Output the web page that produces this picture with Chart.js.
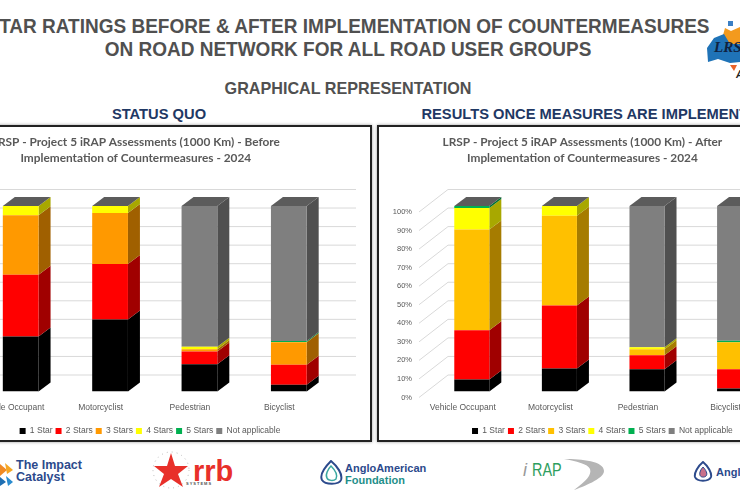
<!DOCTYPE html>
<html>
<head>
<meta charset="utf-8">
<title>Star ratings</title>
<script src="https://cdn.jsdelivr.net/npm/chart.js@4"></script>
<style>
html, body { margin: 0; padding: 0; background: #fff; overflow: hidden; width: 740px; height: 500px; }
body { position: relative; font-family: "Liberation Sans", Arial, sans-serif; }
.txt { position: absolute; white-space: nowrap; font-weight: bold; transform: translateX(-50%) scaleX(0.95); }
.head { color: #505050; font-size: 20px; }
.sub { color: #1f3864; font-size: 15px; transform: translateX(-50%) scaleX(0.98); }
.frame { position: absolute; top: 125px; height: 313px; background: #fff; border: 2px solid #222; box-shadow: 0 0 3px #999; }
canvas { position: absolute; top: 126px; }
.logo { position: absolute; white-space: nowrap; line-height: 12px; font-weight: bold; }
svg { position: absolute; }
</style>
</head>
<body>
<div class="txt head" style="left:348px;top:15px">STAR RATINGS BEFORE &amp; AFTER IMPLEMENTATION OF COUNTERMEASURES</div>
<div class="txt head" style="left:348px;top:38px">ON ROAD NETWORK FOR ALL ROAD USER GROUPS</div>
<div class="txt" style="left:348px;top:79px;color:#505050;font-size:17px">GRAPHICAL REPRESENTATION</div>
<div class="txt sub" style="left:159px;top:105px">STATUS QUO</div>
<div class="txt sub" style="left:595px;top:105px">RESULTS ONCE MEASURES ARE IMPLEMENTED</div>

<div class="frame" style="left:-10px;width:378px"></div>
<div class="frame" style="left:377px;width:400px"></div>
<canvas id="antes" width="468" height="315" style="left:-98px"></canvas>
<canvas id="despues" width="409" height="315" style="left:378px"></canvas>

<!-- logo LRSP -->
<svg style="left:704px;top:18px" width="36" height="62" viewBox="0 0 36 62">
  <path d="M24 3 L29 3 L29 8 L24 8 Z" fill="#3b7fc4"/>
  <path d="M21 10 L27 13 L36 9 L36 28 L16 28 Z" fill="#f39a1e"/>
  <path d="M3 30 L10 20 L20 16 L26 26 L36 26 L36 44 L26 45 L14 41 L4 44 Z" fill="#1f73b7"/>
  <path d="M26 47 L33 47 L30 53 Z" fill="#e8632a"/>
  <text x="10" y="34" font-family="Liberation Serif" font-style="italic" font-weight="bold" font-size="15" fill="#10223f">LRS</text>
  <text x="32" y="60" font-family="Liberation Sans" font-style="italic" font-weight="bold" font-size="10" fill="#222">A</text>
</svg>

<!-- logos de abajo -->
<svg style="left:0;top:462px" width="14" height="24" viewBox="0 0 14 24">
  <path d="M0 2 L7 8 L0 14 Z" fill="#f08a24"/><path d="M5 1 L13 8 L7 12 Z" fill="#f5a623"/>
  <path d="M0 15 L6 20 L0 24 Z" fill="#1f6fb2"/><path d="M6 14 L13 20 L8 24 Z" fill="#2a8ccf"/>
</svg>
<div class="logo" style="left:16px;top:459px;font-size:12.5px;color:#2c4a8c">The Impact<br>Catalyst</div>

<svg style="left:150px;top:449px" width="42" height="42" viewBox="0 0 42 42">
  <circle cx="21" cy="21" r="18" fill="none" stroke="#bbb" stroke-width="1" stroke-dasharray="1 4"/>
  <path d="M21 4 L25 17 L38 17 L28 25 L33 38 L21 30 L9 38 L14 25 L4 17 L17 17 Z" fill="#e8302a"/>
</svg>
<div class="logo" style="left:193px;top:459px;font-size:29px;line-height:24px;color:#e8302a">rrb</div>
<div class="logo" style="left:186px;top:481px;font-size:4px;line-height:6px;letter-spacing:1px;color:#555">SYSTEMS</div>

<svg style="left:319px;top:460px" width="25" height="26" viewBox="0 0 25 26">
  <path d="M12 1 C18 6 24 14 22 20 C20 25 6 25 3 20 C0 14 7 6 12 1 Z" fill="none" stroke="#2c4a8c" stroke-width="2"/>
  <path d="M12 6 C16 10 19 15 17 19 C15 21 9 21 8 18 C6 15 9 9 12 6 Z" fill="none" stroke="#3aa8a0" stroke-width="1.5"/>
</svg>
<div class="logo" style="left:345px;top:462px;font-size:11px;color:#2c4a8c">AngloAmerican<br><span style="color:#1f8f8a">Foundation</span></div>

<div class="logo" style="left:523px;top:459px;font-size:18px;line-height:22px;font-weight:normal;font-style:italic;color:#999">i</div>
<div class="logo" style="left:532px;top:459px;font-size:18px;line-height:22px;font-weight:normal;color:#2e9e5e;transform:scaleX(.8);transform-origin:left">RAP</div>
<svg style="left:562px;top:459px" width="44" height="32" viewBox="0 0 44 32">
  <path d="M2 0 C20 0 42 2 42 12 C42 20 20 28 12 31 C24 22 30 16 28 10 C26 5 14 2 2 0 Z" fill="#b5b5b5"/>
</svg>

<svg style="left:693px;top:461px" width="20" height="22" viewBox="0 0 20 22">
  <path d="M10 1 C15 5 19 12 18 16 C16 21 4 21 2 16 C1 12 5 5 10 1 Z" fill="none" stroke="#2c4a8c" stroke-width="2"/>
  <path d="M10 6 C13 9 15 13 13 15 C11 17 7 16 7 14 C6 12 8 8 10 6 Z" fill="#c9708a" stroke="#2c4a8c"/>
</svg>
<div class="logo" style="left:716px;top:466px;font-size:11px;color:#2c4a8c">AngloAmerican</div>

<script>
// categorias y series
const categorias = ["Vehicle Occupant", "Motorcyclist", "Pedestrian", "Bicyclist"];
const seriesNombres = ["1 Star", "2 Stars", "3 Stars", "4 Stars", "5 Stars", "Not applicable"];
const ticksPorcentaje = [0, 10, 20, 30, 40, 50, 60, 70, 80, 90, 100];

const antes1 = [29.7, 38.8, 14.7, 3.6];
const antes2 = [33.2, 29.9, 6.9, 10.8];
const antes3 = [32.1, 27.5, 1.2, 12.2];
const antes4 = [5.0, 3.8, 1.3, 0.1];
const antes5 = [0, 0, 0, 0.5];
const antesNA = [0, 0, 75.9, 72.8];

const despues1 = [6.5, 12.4, 12.0, 1.6];
const despues2 = [26.5, 33.9, 7.6, 10.4];
const despues3 = [54.3, 48.5, 3.2, 14.6];
const despues4 = [11.6, 5.2, 1.1, 0];
const despues5 = [1.1, 0, 0, 0.7];
const despuesNA = [0, 0, 76.1, 72.7];

// colores de cada grafico: cara frontal y cara lateral
const coloresAntes = ["#000000", "#ff0000", "#ff9900", "#ffff00", "#00b050", "#7f7f7f"];
const lateralAntes = ["#000000", "#a00000", "#a06000", "#a8a800", "#006f32", "#505050"];
const coloresDespues = ["#000000", "#ff0000", "#ffc000", "#ffff00", "#00b050", "#7f7f7f"];
const lateralDespues = ["#000000", "#a00000", "#a67c00", "#a8a800", "#006f32", "#505050"];

const gris = "#595959";

// efecto 3D: pared de fondo, caras laterales y tapa de cada columna
const columnas3D = {
    id: "columnas3D",
    beforeDatasetsDraw(chart, args, o) {
        const ctx = chart.ctx;
        const y = chart.scales.y;
        const area = chart.chartArea;

        ctx.save();
        ctx.strokeStyle = "#d9d9d9";
        ctx.lineWidth = 1;
        y.ticks.forEach(function (t) {
            const py = y.getPixelForValue(t.value);
            ctx.beginPath();
            ctx.moveTo(area.left, py);
            ctx.lineTo(area.left + o.paredX, py - o.paredY);
            ctx.lineTo(area.right + o.paredX, py - o.paredY);
            ctx.stroke();
        });
        ctx.restore();

        ctx.save();
        ctx.translate(o.despX, -o.despY);
        chart.data.datasets.forEach(function (ds, i) {
            chart.getDatasetMeta(i).data.forEach(function (b) {
                if (Math.abs(b.base - b.y) < 0.01) return;
                const der = b.x + b.width / 2;
                ctx.fillStyle = o.lateral[i];
                ctx.beginPath();
                ctx.moveTo(der, b.y);
                ctx.lineTo(der + o.fondoX, b.y - o.fondoY);
                ctx.lineTo(der + o.fondoX, b.base - o.fondoY);
                ctx.lineTo(der, b.base);
                ctx.closePath();
                ctx.fill();
            });
        });
        // tapa superior, siempre gris oscuro como en el original
        const n = chart.data.datasets.length;
        chart.getDatasetMeta(0).data.forEach(function (b0, j) {
            let arriba = b0;
            for (let i = 0; i < n; i++) {
                const b = chart.getDatasetMeta(i).data[j];
                if (b.y < arriba.y) arriba = b;
            }
            const izq = arriba.x - arriba.width / 2;
            const der = arriba.x + arriba.width / 2;
            ctx.fillStyle = "#5c5c5c";
            ctx.beginPath();
            ctx.moveTo(izq, arriba.y);
            ctx.lineTo(izq + o.fondoX, arriba.y - o.fondoY);
            ctx.lineTo(der + o.fondoX, arriba.y - o.fondoY);
            ctx.lineTo(der, arriba.y);
            ctx.closePath();
            ctx.fill();
        });
    },
    afterDatasetsDraw(chart) {
        chart.ctx.restore();
    },
};

// corre titulo y leyenda porque en el original no van centrados sobre el eje
const moverBloques = {
    id: "moverBloques",
    afterLayout(chart, args, o) {
        chart.titleBlock.left += o.tituloX;
        chart.titleBlock.right += o.tituloX;
        chart.legend.left += o.leyendaX;
        chart.legend.right += o.leyendaX;
        chart.legend.top += o.leyendaY;
        chart.legend.bottom += o.leyendaY;
    },
};

function crearGrafico(id, series, colores, lateral, titulo, anchoEje, margenDer, o3d, tituloX, leyendaX) {
    new Chart(document.getElementById(id), {
        type: "bar",
        data: {
            labels: categorias,
            datasets: series.map(function (valores, i) {
                return {
                    label: seriesNombres[i],
                    data: valores,
                    backgroundColor: colores[i],
                    borderWidth: 0,
                    barPercentage: 0.4,
                    categoryPercentage: 1,
                };
            }),
        },
        plugins: [columnas3D, moverBloques],
        options: {
            responsive: false,
            animation: false,
            layout: { padding: { right: margenDer } },
            scales: {
                x: {
                    stacked: true,
                    grid: { display: false, drawTicks: false },
                    border: { display: false },
                    ticks: { color: gris, font: { family: "Liberation Sans", size: 8.5 }, padding: 5, maxRotation: 0 },
                    afterFit(scale) { scale.height = 22; },
                },
                y: {
                    stacked: true,
                    min: 0,
                    max: 100,
                    grid: { display: false, drawTicks: false },
                    border: { display: false },
                    afterBuildTicks(scale) {
                        scale.ticks = ticksPorcentaje.map(function (v) { return { value: v }; });
                    },
                    ticks: {
                        color: gris,
                        padding: 7,
                        font: { family: "Liberation Sans", size: 7.5 },
                        callback: function (v) { return v + "%"; },
                    },
                    afterFit(scale) { scale.width = anchoEje; },
                },
            },
            plugins: {
                title: {
                    display: true,
                    text: titulo,
                    color: gris,
                    font: { family: "Lato", size: 11.85, weight: "bold", lineHeight: 1.35 },
                    padding: { top: 8, bottom: 46 },
                },
                legend: {
                    position: "bottom",
                    labels: {
                        color: gris,
                        boxWidth: 6,
                        boxHeight: 6,
                        padding: 3,
                        font: { family: "Liberation Sans", size: 8.5 },
                    },
                },
                tooltip: { enabled: false },
                columnas3D: Object.assign({ lateral: lateral }, o3d),
                moverBloques: { tituloX: tituloX, leyendaX: leyendaX, leyendaY: 4.25 },
            },
        },
    });
}

crearGrafico("antes",
    [antes1, antes2, antes3, antes4, antes5, antesNA],
    coloresAntes, lateralAntes,
    ["LRSP - Project 5 iRAP Assessments (1000 Km) - Before", "Implementation of Countermeasures - 2024"],
    64.5, 46,
    { despX: 9.5, despY: 6, fondoX: 12, fondoY: 9, paredX: 32, paredY: 22.5 },
    22.8, 37);

crearGrafico("despues",
    [despues1, despues2, despues3, despues4, despues5, despuesNA],
    coloresDespues, lateralDespues,
    ["LRSP - Project 5 iRAP Assessments (1000 Km) - After", "Implementation of Countermeasures - 2024"],
    41, 17.6,
    { despX: 9, despY: 6, fondoX: 12, fondoY: 9, paredX: 29, paredY: 22.5 },
    8.7, 28.7);
</script>
</body>
</html>
